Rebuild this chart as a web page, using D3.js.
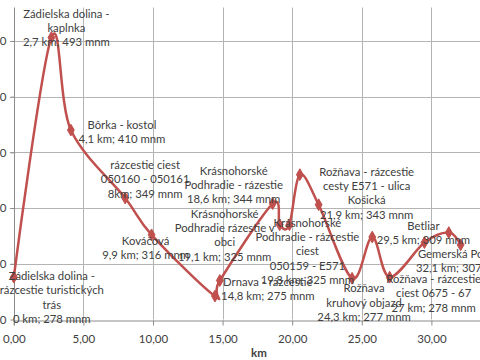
<!DOCTYPE html>
<html><head><meta charset="utf-8">
<script src="https://cdn.jsdelivr.net/npm/d3@7"></script>
<style>
html,body{margin:0;padding:0;background:#fff;overflow:hidden}
svg{display:block}
</style></head>
<body>
<svg id="c" width="480" height="360"></svg>
<script>
// ---- data ----
const km = [0, 2.7, 4.1, 8, 9.9, 14.45, 14.8, 18.6, 19.1, 19.8, 20.55, 21.9, 24.3, 25.75, 27, 29.5, 31.25, 32.1];
const elevation = [278, 493, 410, 349, 316, 261, 275, 344, 325, 325, 370, 343, 277, 314, 278, 309, 318, 307];
const pointLabels = [
  ["Zádielska dolina -", "rázcestie turistických", "trás", "0 km; 278 mnm"],
  ["Zádielska dolina -", "kaplnka", "2,7 km; 493 mnm"],
  ["Bôrka - kostol", "4,1 km; 410 mnm"],
  ["rázcestie ciest", "050160 - 050161", "8km; 349 mnm"],
  ["Kováčová", "9,9 km; 316 mnm"],
  null,
  ["Drnava - rázcestie", "14,8 km; 275 mnm"],
  ["Krásnohorské", "Podhradie - rázestie", "18,6 km; 344 mnm"],
  ["Krásnohorské", "Podhradie rázestie v", "obci", "19,1 km; 325 mnm"],
  ["Krásnohorské", "Podhradie - rázcestie", "ciest", "050159 - E571", "19,8 km; 325 mnm"],
  null,
  ["Rožňava - rázcestie", "cesty E571 - ulica", "Košická", "21,9 km; 343 mnm"],
  ["Rožňava", "kruhový objazd", "24,3 km; 277 mnm"],
  null,
  ["Rožňava - rázcestie", "ciest 0675 - 67", "27 km; 278 mnm"],
  ["Betliar", "29,5 km; 309 mnm"],
  null,
  ["Gemerská Poloma", "32,1 km; 307 mnm"]
];
const xTicks = [0, 5, 10, 15, 20, 25, 30, 35];
const yTicks = [240, 290, 340, 390, 440, 490];
const xTitle = "km";

// ---- layout (label offsets from their point, px: centre dx, first-line dy) ----
const labelOffsets = [
  [38, -2], [15, -25], [51, -6], [20, -34], [-6, 5], null, [48, 0],
  [-39, -34], [-55, -12], [18, -3], null, [48, -34], [12, 9], null,
  [44, 1], [-1, -18], null, [2, 8]
];

const svg = d3.select("#c");
const mLeft = 13.8, mTop = 7.5, mBottom = 319.5;
const x = d3.scaleLinear().domain([0, 35]).range([mLeft, mLeft + 35 * 13.92]);
const y = d3.scaleLinear().domain([240, 520]).range([mBottom, mTop]);

const font = "Lato, 'Open Sans', sans-serif";
const textCol = "#404040";
const gridCol = "#b4b4b4";
const axisCol = "#8c8c8c";
const red = "#c0504d";

// gridlines
svg.append("g").selectAll("line").data(yTicks.slice(1)).join("line")
  .attr("x1", mLeft - 4).attr("x2", 480)
  .attr("y1", d => Math.round(y(d)) + 0.5).attr("y2", d => Math.round(y(d)) + 0.5)
  .attr("stroke", gridCol).attr("stroke-width", 1);
svg.append("g").selectAll("line").data(xTicks.slice(1)).join("line")
  .attr("x1", d => Math.round(x(d)) + 0.5).attr("x2", d => Math.round(x(d)) + 0.5)
  .attr("y1", mTop).attr("y2", mBottom)
  .attr("stroke", gridCol).attr("stroke-width", 1);

// axes
const xAxis = d3.axisBottom(x).tickValues(xTicks).tickSize(5).tickPadding(9)
  .tickFormat(d => d3.format(".2f")(d).replace(".", ","));
const gx = svg.append("g").attr("transform", `translate(0,${Math.round(mBottom) + 0.5})`).call(xAxis);
const yAxis = d3.axisLeft(y).tickValues(yTicks).tickSize(4).tickPadding(4);
const gy = svg.append("g").attr("transform", `translate(${Math.round(mLeft) + 0.5},0)`).call(yAxis);
[gx, gy].forEach(g => {
  g.select(".domain").attr("stroke", axisCol);
  g.selectAll(".tick line").attr("stroke", axisCol);
  g.selectAll("text").attr("fill", textCol).style("font-family", font).style("font-size", "11.5px");
});
gy.select(".domain").attr("d", `M0,${mTop}V${mBottom}`);

svg.append("text").attr("x", 259).attr("y", 357).attr("text-anchor", "middle")
  .style("font-family", font).style("font-size", "11.5px").style("font-weight", "bold")
  .attr("fill", textCol).text(xTitle);

// line
const pts = km.map((k, i) => [k, elevation[i]]);
const line = d3.line().x(d => x(d[0])).y(d => y(d[1])).curve(d3.curveCatmullRom.alpha(0));
svg.append("path").attr("d", line(pts)).attr("fill", "none")
  .attr("stroke", red).attr("stroke-width", 2.5).attr("stroke-linejoin", "round");

// markers
svg.append("g").selectAll("path").data(pts).join("path")
  .attr("d", d3.symbol(d3.symbolDiamond, 40))
  .attr("transform", d => `translate(${x(d[0])},${y(d[1])})`)
  .attr("fill", red).attr("stroke", red).attr("stroke-width", 1);

// data labels
const lh = 14.3;
pts.forEach((d, i) => {
  const lines = pointLabels[i];
  if (!lines) return;
  const off = labelOffsets[i];
  const t = svg.append("text")
    .attr("text-anchor", "middle")
    .attr("dominant-baseline", "central")
    .style("font-family", font).style("font-size", "11.3px")
    .attr("fill", textCol);
  lines.forEach((s, j) => {
    t.append("tspan").attr("x", x(d[0]) + off[0]).attr("y", y(d[1]) + off[1] + j * lh).text(s);
  });
});
</script>
</body></html>
